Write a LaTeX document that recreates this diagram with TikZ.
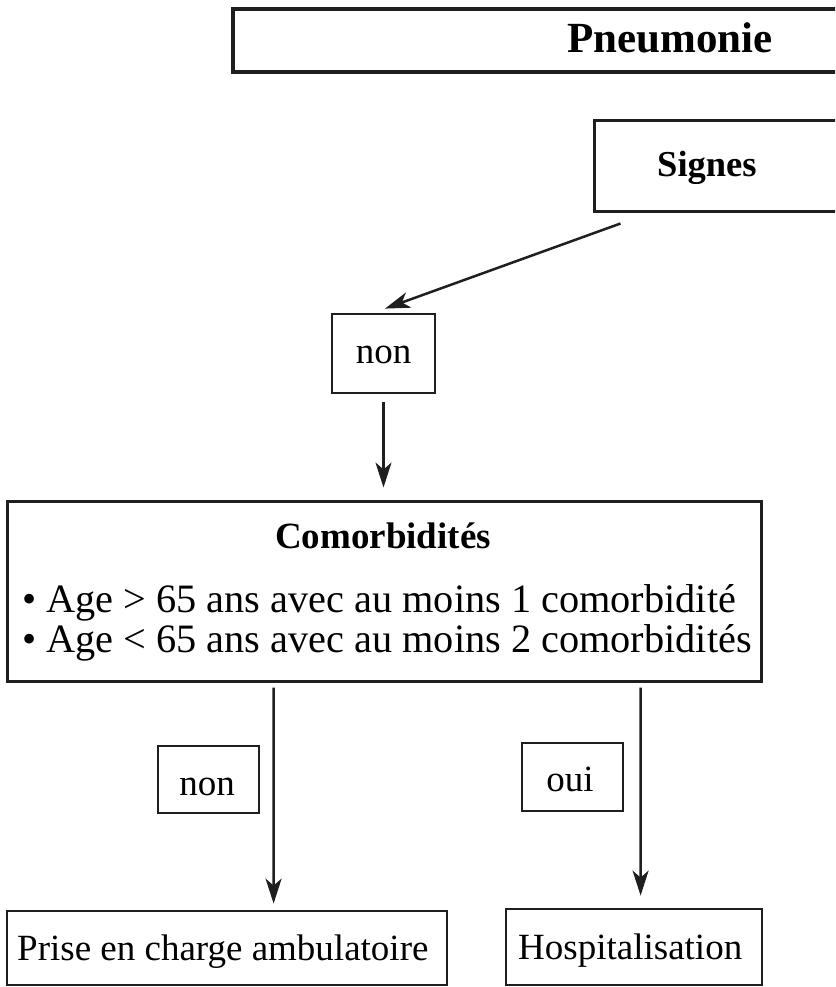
\documentclass[tikz,border=0pt]{standalone}
\usepackage{fontspec}
\setmainfont{Liberation Serif}
\usetikzlibrary{arrows.meta,calc}
\begin{document}
\begin{tikzpicture}[x=1pt,y=-1pt,
  box/.style={draw=black!88, line width=2.8pt, inner sep=0pt},
  txt/.style={inner sep=0pt, font=\fontsize{37}{44}\selectfont},
  ttl/.style={inner sep=0pt, font=\fontsize{37}{44}\selectfont\bfseries},
  arr/.style={draw=black!88, line width=2.5pt, -{Stealth[length=25pt,width=16pt,inset=7pt]}}]
\useasboundingbox (0,0) rectangle (835,987);
\clip (0,0) rectangle (835,987);

% boxes
\node[box, line width=4.4pt, minimum width=877pt, minimum height=63pt] (pneu) at (671.5,40.5) {};
\node[box, line width=3pt, minimum width=306pt, minimum height=90pt] (signes) at (747,166) {};
\node[box, minimum width=103pt, minimum height=79pt] (non1) at (383.5,353.5) {};
\node[box, line width=3pt, minimum width=754pt, minimum height=180pt] (comorb) at (384,591) {};
\node[box, minimum width=101pt, minimum height=67pt] (non2) at (208.5,779.5) {};
\node[box, minimum width=101pt, minimum height=68pt] (oui) at (572.5,777) {};
\node[box, minimum width=440pt, minimum height=74pt] (prise) at (227,948) {};
\node[box, minimum width=256pt, minimum height=76pt] (hosp) at (634,947) {};

% texts
\node[ttl, anchor=base, font=\fontsize{43}{50}\selectfont\bfseries] (tpneu) at (670,53) {Pneumonie};
\node[ttl, anchor=base west, font=\fontsize{36.5}{44}\selectfont\bfseries] (tsignes) at (657,177) {Signes};
\node[txt, anchor=base] (tnon1) at (383.5,363) {non};
\node[ttl, anchor=base] (tcomorb) at (383,548) {Comorbidités};
\node[txt, anchor=base west, font=\fontsize{40.3}{46}\selectfont] (tl1) at (22,612) {• Age > 65 ans avec au moins 1 comorbidité};
\node[txt, anchor=base west, font=\fontsize{40.3}{46}\selectfont] (tl2) at (22,652) {• Age < 65 ans avec au moins 2 comorbidités};
\node[txt, anchor=base] (tnon2) at (207,795) {non};
\node[txt, anchor=base] (toui) at (570,791) {oui};
\node[txt, anchor=base west] (tprise) at (17,960) {Prise en charge ambulatoire};
\node[txt, anchor=base west] (thosp) at (518,959) {Hospitalisation};

% connectors
\draw[arr] ($(signes.south west)+(28,11)$) -- ($(non1.north)+(1.5,-4)$);
\draw[arr, shorten <=8pt, shorten >=12pt] (non1.south) -- (non1.south |- comorb.north);
\draw[arr, shorten <=5pt, shorten >=6pt] ([xshift=268pt]comorb.south west) -- ([xshift=268pt]prise.north west);
\draw[arr, shorten <=5pt, shorten >=12pt] ([xshift=635pt]comorb.south west) -- ([xshift=136pt]hosp.north west);
\end{tikzpicture}
\end{document}
